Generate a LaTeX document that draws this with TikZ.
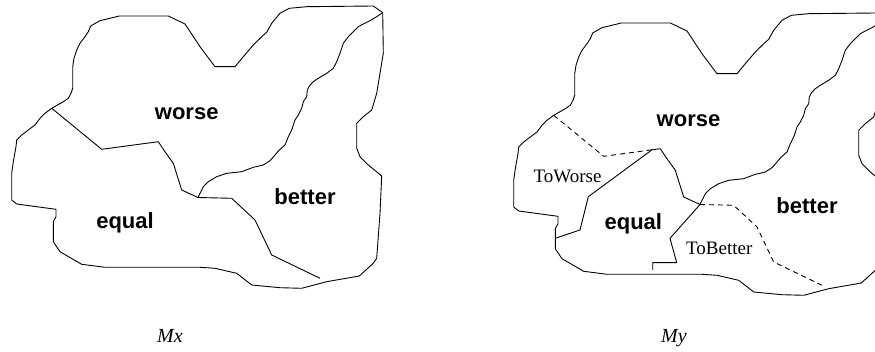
\documentclass[tikz,border=0pt]{standalone}
\usepackage{fontspec}
\setmainfont{Liberation Serif}
\setsansfont{Liberation Sans}
\tikzset{
  edge/.style={line width=0.9pt, line join=round},
  dashededge/.style={edge, dash pattern=on 5pt off 4pt},
  region/.style={font=\sffamily\bfseries\fontsize{22}{22}\selectfont, inner sep=0pt, anchor=base},
  sublabel/.style={font=\rmfamily\fontsize{19}{19}\selectfont, inner sep=0pt, anchor=base},
  caption/.style={font=\rmfamily\itshape\fontsize{20}{20}\selectfont, inner sep=0pt, anchor=base},
  shapeframe/.pic={
    \draw[edge] (51.7,108.3) -- (63.3,101.7) -- (68.3,98.3) -- (71,93.3) -- (72.7,88.3) -- (72.7,66.7)
      -- (74,58.3) -- (76.7,50) -- (80,43.3) -- (85,36.7) -- (88.3,31.7) -- (90.7,26) -- (100,20.7)
      -- (119.3,16) -- (168.3,16) -- (185,24) -- (200,46.7) -- (215,66.7) -- (235,66.7) -- (243.3,56.7)
      -- (253.3,45) -- (261.7,36.7) -- (266.7,32.3) -- (271.7,23.3) -- (280,13.3) -- (289.3,8.3)
      -- (306.7,6.7) -- (373.3,6) -- (382.7,12.7) -- (383.3,53.3) -- (380,73.3) -- (376.7,93.3)
      -- (371.7,110) -- (363.3,116.7) -- (356.7,123.3) -- (356.7,148.3) -- (360,156.7) -- (368.3,165)
      -- (381.7,176) -- (380,213.3) -- (376.7,258.3) -- (373.3,263.3) -- (359.3,276) -- (326.7,281.7)
      -- (301.7,288.3) -- (280,287.7) -- (251.7,285) -- (236.7,273.3) -- (215,268.3) -- (200,267.3)
      -- (105,267.3) -- (81.7,264.3) -- (60,251.7) -- (53.3,241.7) -- (53.3,221.7) -- (56,216.7)
      -- (56,209.3) -- (16.7,204) -- (11.7,200) -- (11.7,173.3) -- (13.3,161.7) -- (16,146.7)
      -- (16.7,140) -- (21.7,135) -- (28.3,130) -- (35,125) -- (40,118.3) -- (45,113.3) -- cycle;
    \draw[edge] (382.7,12.7) -- (376.7,16.7) -- (370,20.7) -- (363.3,24) -- (358.3,26.7) -- (353.3,31.7)
      -- (348.3,36.7) -- (343.3,43.3) -- (340,53.3) -- (336.7,61.7) -- (333.3,68.3) -- (326.7,73.3)
      -- (318.3,78.3) -- (313.3,81.7) -- (309.3,86) -- (307.3,90) -- (306.7,96.7) -- (303.3,101.7)
      -- (301.7,108.3) -- (298.3,115) -- (295,120) -- (291.7,130) -- (288.3,136.7) -- (285,145)
      -- (279.3,150) -- (275,155) -- (270,160.7) -- (263.3,165) -- (253.3,167.3) -- (241.7,171.7)
      -- (226.7,173.3) -- (216.7,176.7) -- (208.3,181.7) -- (203.3,186.7) -- (198,197.5);
  }
}
\begin{document}
\begin{tikzpicture}[x=1pt, y=-1pt]
\useasboundingbox (0,0) rectangle (875,352);
\clip (0,0) rectangle (875,352);

% ---------- left diagram (Mx) ----------
\pic at (0,0) {shapeframe};
\draw[edge] (51.7,108.3) -- (101.7,149.3) -- (158.3,141.7) -- (165,151.7) -- (173.3,163.3)
  -- (181.7,190) -- (198,197.5);
\draw[edge] (198,197.5) -- (231.7,198.3) -- (255,220) -- (271.7,255) -- (320,278.3);
\node[region] (worseL) at (186.7,119.3) {worse};
\node[region] (equalL) at (125,228.3) {equal};
\node[region] (betterL) at (305,205) {better};
\node[caption] (mx) at (170,343) {Mx};

% ---------- right diagram (My) ----------
\begin{scope}[shift={(502,7)}]
  \pic at (0,0) {shapeframe};
  \coordinate (P) at (150,142.8);
  \coordinate (J) at (198,197.5);
  \draw[dashededge] (51.7,108.3) -- (101.7,149.3) -- (P);
  \draw[edge] (P) -- (158.3,141.7) -- (165,151.7) -- (173.3,163.3) -- (181.7,190) -- (J);
  \draw[edge] (P) -- (86.3,189.7) -- (78,223) -- (53.3,231.3);
  \draw[edge] (J) -- (168,231.3) -- (174.7,255.7) -- (150.7,255.7) -- (150.7,263);
  \draw[dashededge] (J) -- (231.7,198.3) -- (255,220) -- (271.7,255) -- (320,278.3);
\end{scope}
\node[region] (worseR) at (688.5,126.5) {worse};
\node[region] (equalR) at (633.3,230) {equal};
\node[region] (betterR) at (807,213.3) {better};
\node[sublabel] (toworse) at (567.5,182.3) {ToWorse};
\node[sublabel] (tobetter) at (719.2,255) {ToBetter};
\node[caption] (my) at (674,343) {My};
\end{tikzpicture}
\end{document}
